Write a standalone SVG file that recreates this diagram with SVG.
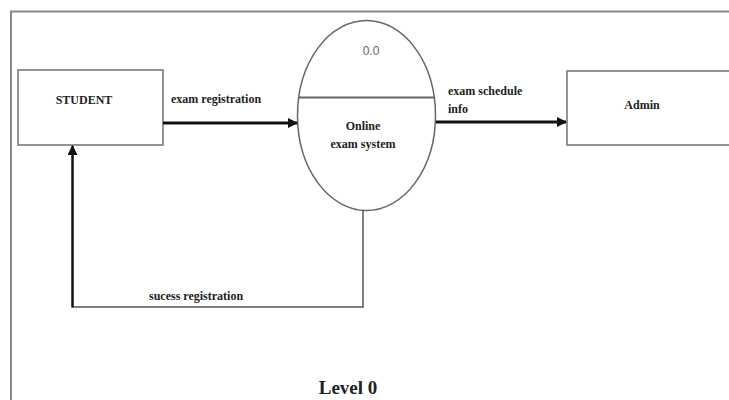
<svg xmlns="http://www.w3.org/2000/svg" width="729" height="400" viewBox="0 0 729 400">
<style>
.box{fill:#fff;stroke:#7a7a7a;stroke-width:1.6}
.lbl{font-family:"Liberation Serif","Times New Roman",serif;font-weight:bold;font-size:12px;fill:#222}
.flow{fill:none;stroke:#111;stroke-width:3}
.thin{fill:none;stroke:#555;stroke-width:1.5}
</style>
<defs>
<marker id="ah" markerWidth="10" markerHeight="10" refX="9" refY="5" orient="auto" markerUnits="userSpaceOnUse">
<path d="M0,0 L10,5 L0,10 Z" fill="#111"/>
</marker>
</defs>
<rect width="729" height="400" fill="#fff"/>
<path d="M11,400 V11.5 H729" fill="none" stroke="#8a8a8a" stroke-width="2"/>
<g id="student">
<rect class="box" x="18" y="70" width="145" height="75"/>
<text class="lbl" x="84" y="104" text-anchor="middle">STUDENT</text>
</g>
<g id="process">
<ellipse cx="366.5" cy="115.5" rx="69" ry="95" fill="#fff" stroke="#666" stroke-width="1.5"/>
<line x1="298" y1="97.5" x2="435" y2="97.5" stroke="#666" stroke-width="1.8"/>
<text x="371" y="55" text-anchor="middle" font-family="Liberation Sans Narrow, Liberation Sans, Arial, sans-serif" font-size="12" fill="#666">0.0</text>
<text class="lbl" x="363" y="130" text-anchor="middle">Online</text>
<text class="lbl" x="363" y="148" text-anchor="middle">exam system</text>
</g>
<g id="admin">
<rect class="box" x="567" y="71" width="175" height="74"/>
<text class="lbl" x="642" y="109" text-anchor="middle">Admin</text>
</g>
<g id="connectors">
<line class="flow" x1="163" y1="123" x2="297" y2="123" marker-end="url(#ah)"/>
<line class="flow" x1="436" y1="122" x2="566" y2="122" marker-end="url(#ah)"/>
<path class="thin" d="M363,210 V307 H72.5"/>
<line x1="72.5" y1="307.5" x2="72.5" y2="146" stroke="#111" stroke-width="2.5" marker-end="url(#ah)"/>
<text class="lbl" x="171" y="103">exam registration</text>
<text class="lbl" x="448" y="95">exam schedule</text>
<text class="lbl" x="448" y="113">info</text>
<text class="lbl" x="149" y="300">sucess registration</text>
</g>
<text x="348" y="394" text-anchor="middle" font-family="Liberation Serif, Times New Roman, serif" font-weight="bold" font-size="19" fill="#222">Level 0</text>
</svg>
